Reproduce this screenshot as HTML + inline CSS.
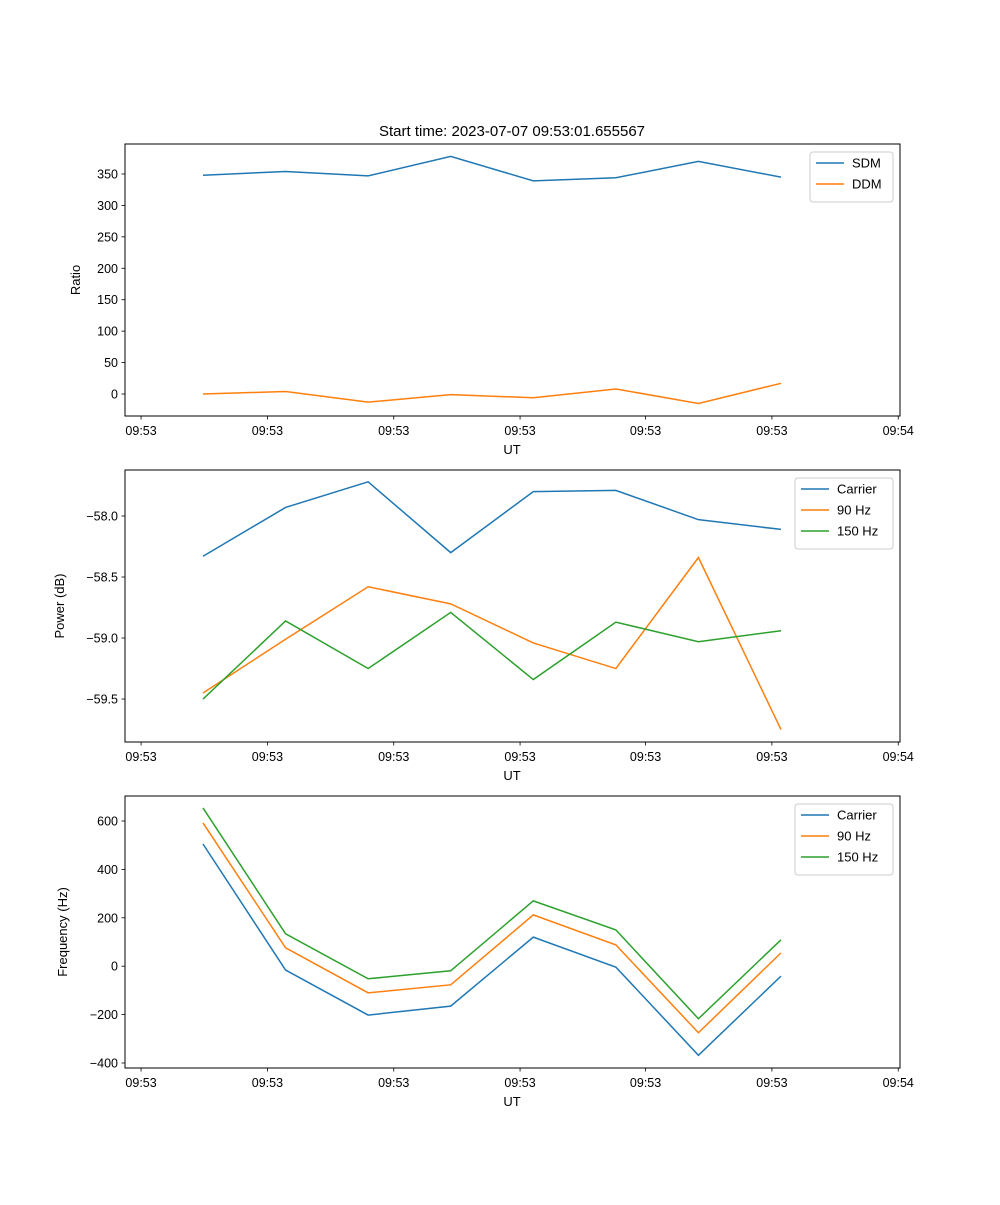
<!DOCTYPE html>
<html><head><meta charset="utf-8"><style>
body{margin:0;background:#fff;}
svg{font-family:"Liberation Sans","DejaVu Sans",sans-serif;}
</style></head><body>
<svg id="fig" width="1000" height="1200" xmlns="http://www.w3.org/2000/svg">
<text x="512" y="136" text-anchor="middle" font-size="15">Start time: 2023-07-07 09:53:01.655567</text>
</svg>
<script>
const times = [0,1,2,3,4,5,6,7];
const xTicks = [-0.75,0.78,2.31,3.84,5.36,6.89,8.42];
const xTickLabels = ["09:53","09:53","09:53","09:53","09:53","09:53","09:54"];
const sdm = [348,354,347,378,339,344,370,345];
const ddm = [0,4,-13,-1,-6,8,-15,17];
const pCarrier = [-58.33,-57.93,-57.72,-58.30,-57.80,-57.79,-58.03,-58.11];
const p90 = [-59.45,-59.01,-58.58,-58.72,-59.04,-59.25,-58.34,-59.75];
const p150 = [-59.5,-58.86,-59.25,-58.79,-59.34,-58.87,-59.03,-58.94];
const fCarrier = [505,-16,-202,-165,120,-4,-368,-41];
const f90 = [592,76,-110,-77,212,88,-275,55];
const f150 = [654,134,-52,-19,270,150,-217,109];
const ticks1 = [0,50,100,150,200,250,300,350];
const ticks2 = [-59.5,-59.0,-58.5,-58.0];
const ticks3 = [-400,-200,0,200,400,600];

const svg = document.getElementById('fig');
const NS = "http://www.w3.org/2000/svg";
const L=125,R=900;
function x(t){return 203 + t*82.57;}
function mk(tag,attrs){const e=document.createElementNS(NS,tag);for(const k in attrs)e.setAttribute(k,attrs[k]);svg.appendChild(e);return e;}
const colors={blue:"#1f77b4",orange:"#ff7f0e",green:"#2ca02c"};

function panel(idx,top,bot,ymin,ymax,ticks,fmt,ylabel,series,legend){
  const y=v=>bot-(v-ymin)/(ymax-ymin)*(bot-top);
  const g=mk('g',{});
  
  
  series.forEach(s=>{
    const p=mk('polyline',{points:s.data.map((v,i)=>x(times[i])+','+y(v)).join(' '),fill:'none',stroke:s.color,'stroke-width':1.5});
    
    
  });
  const fr=mk('rect',{x:L,y:top,width:R-L,height:bot-top,fill:'none',stroke:'#000','stroke-width':1});
  
  
  ticks.forEach(v=>{
    const yy=y(v);
    mk('line',{x1:L-3.5,x2:L,y1:yy,y2:yy,stroke:'#000','stroke-width':0.8});
    const t=mk('text',{x:L-7,y:yy+4.5,'text-anchor':'end','font-size':12.5});
    t.textContent=fmt(v);
    
    
  });
  xTicks.forEach((v,i)=>{
    const xx=x(v);
    mk('line',{x1:xx,x2:xx,y1:bot,y2:bot+3.5,stroke:'#000','stroke-width':0.8});
    const t=mk('text',{x:xx,y:bot+19,'text-anchor':'middle','font-size':12.5});
    t.textContent=xTickLabels[i];
    
    
  });
  const xl=mk('text',{x:512,y:bot+38,'text-anchor':'middle','font-size':13});
  xl.textContent='UT';
  
  
  const cy=(top+bot)/2;
  const yl=mk('text',{x:0,y:0,'text-anchor':'middle','font-size':13,transform:`translate(${legend.ylx},${cy}) rotate(-90)`});
  yl.textContent=ylabel;
  
  
  const lb=mk('rect',{x:legend.x,y:top+8,width:R-7-legend.x,height:series.length*21+8,fill:'#fff',stroke:'#ccc',rx:3});
  
  
  series.forEach((s,i)=>{
    const ly=top+19+i*21;
    mk('line',{x1:legend.x+6,x2:legend.x+34,y1:ly,y2:ly,stroke:s.color,'stroke-width':1.5});
    const t=mk('text',{x:legend.x+42,y:ly+4.5,'font-size':13});
    t.textContent=s.name;
    
    
  });
}
const minus=v=>String(v).replace('-','\u2212');
panel(1,144,416,-35,397.7,ticks1,v=>minus(v),'Ratio',
 [{name:'SDM',data:sdm,color:colors.blue},{name:'DDM',data:ddm,color:colors.orange}],{x:810,ylx:80});
panel(2,470,742,-59.852,-57.623,ticks2,v=>minus(v.toFixed(1)),'Power (dB)',
 [{name:'Carrier',data:pCarrier,color:colors.blue},{name:'90 Hz',data:p90,color:colors.orange},{name:'150 Hz',data:p150,color:colors.green}],{x:795,ylx:64});
panel(3,796,1068,-420.7,703.3,ticks3,v=>minus(v),'Frequency (Hz)',
 [{name:'Carrier',data:fCarrier,color:colors.blue},{name:'90 Hz',data:f90,color:colors.orange},{name:'150 Hz',data:f150,color:colors.green}],{x:795,ylx:67});
</script>
</body></html>
